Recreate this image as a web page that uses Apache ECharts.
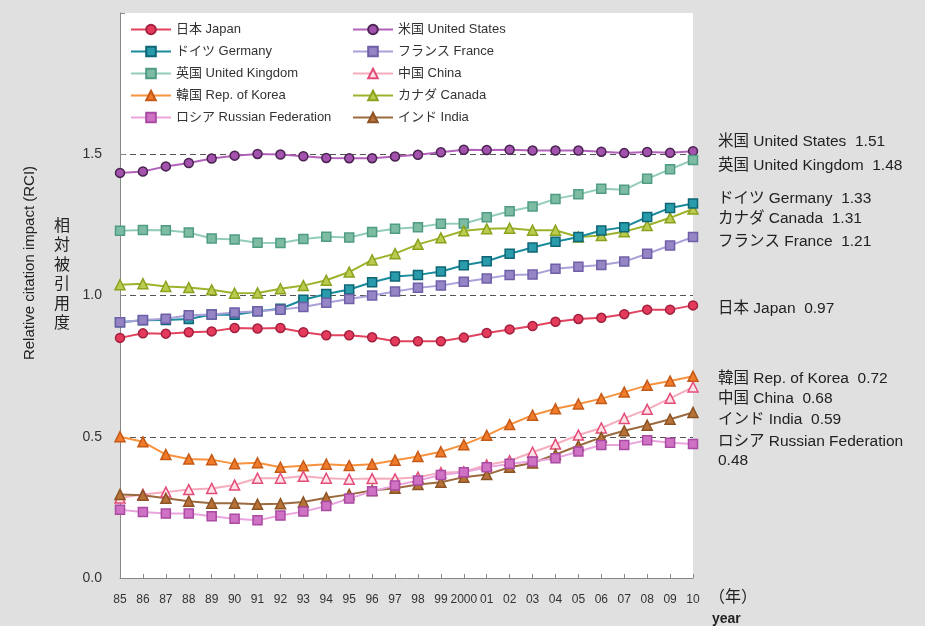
<!DOCTYPE html>
<html>
<head>
<meta charset="utf-8">
<title>Relative citation impact</title>
<script src="https://cdn.jsdelivr.net/npm/echarts@6/dist/echarts.min.js"></script>
<style>
  html, body { margin: 0; padding: 0; background: #e0e0e0; }
  #chart { width: 925px; height: 626px; }
</style>
</head>
<body>
<div id="chart"></div>
<script>
// years 1985-2010
var years = ['85','86','87','88','89','90','91','92','93','94','95','96','97','98','99','2000','01','02','03','04','05','06','07','08','09','10'];

var japan   = [0.850,0.866,0.865,0.870,0.873,0.885,0.883,0.885,0.870,0.859,0.859,0.852,0.838,0.838,0.838,0.851,0.867,0.880,0.892,0.907,0.917,0.921,0.934,0.950,0.950,0.965];
var us      = [1.434,1.439,1.457,1.469,1.485,1.495,1.501,1.499,1.493,1.487,1.486,1.486,1.492,1.498,1.507,1.516,1.515,1.516,1.513,1.513,1.513,1.509,1.504,1.508,1.505,1.511];
var germany = [0.905,0.912,0.913,0.917,0.933,0.932,0.944,0.953,0.985,1.005,1.021,1.047,1.067,1.073,1.085,1.107,1.121,1.148,1.170,1.190,1.207,1.230,1.242,1.278,1.310,1.326];
var france  = [0.905,0.913,0.918,0.930,0.933,0.940,0.944,0.950,0.959,0.974,0.988,1.000,1.014,1.027,1.035,1.049,1.060,1.073,1.074,1.095,1.102,1.108,1.120,1.148,1.177,1.207];
var uk      = [1.229,1.232,1.231,1.223,1.202,1.198,1.187,1.186,1.200,1.208,1.205,1.225,1.236,1.242,1.254,1.255,1.277,1.298,1.315,1.342,1.358,1.378,1.374,1.413,1.447,1.480];
var china   = [0.283,0.296,0.304,0.313,0.317,0.329,0.353,0.353,0.360,0.353,0.350,0.352,0.351,0.357,0.373,0.376,0.400,0.415,0.445,0.474,0.506,0.531,0.565,0.597,0.636,0.676];
var korea   = [0.500,0.482,0.437,0.421,0.419,0.404,0.408,0.392,0.397,0.403,0.398,0.403,0.417,0.430,0.447,0.472,0.505,0.543,0.576,0.599,0.616,0.635,0.658,0.682,0.697,0.714];
var canada  = [1.038,1.042,1.032,1.028,1.020,1.008,1.009,1.024,1.035,1.054,1.083,1.126,1.148,1.181,1.204,1.229,1.236,1.238,1.231,1.231,1.207,1.212,1.226,1.248,1.275,1.306];
var russia  = [0.242,0.234,0.228,0.228,0.219,0.210,0.204,0.221,0.235,0.255,0.281,0.307,0.327,0.345,0.365,0.374,0.392,0.404,0.412,0.424,0.448,0.471,0.471,0.488,0.479,0.474];
var india   = [0.296,0.293,0.282,0.272,0.265,0.265,0.261,0.263,0.269,0.284,0.296,0.310,0.318,0.331,0.339,0.357,0.366,0.392,0.407,0.437,0.468,0.498,0.521,0.541,0.562,0.586];

var yTicks = ['0.0', '0.5', '1.0', '1.5'];

var endLabels = [
  '米国 United States  1.51',
  '英国 United Kingdom  1.48',
  'ドイツ Germany  1.33',
  'カナダ Canada  1.31',
  'フランス France  1.21',
  '日本 Japan  0.97',
  '韓国 Rep. of Korea  0.72',
  '中国 China  0.68',
  'インド India  0.59',
  'ロシア Russian Federation',
  '0.48'
];

var FONT = '"Liberation Sans", "Noto Sans CJK JP", sans-serif';

function mk(name, data, symbol, line, fill, border, size) {
  return {
    name: name,
    type: 'line',
    data: data,
    symbol: symbol,
    symbolSize: size || 9,
    lineStyle: { color: line, width: 2 },
    itemStyle: { color: fill, borderColor: border, borderWidth: 1.5 },
    emphasis: { disabled: true }
  };
}

var series = [
  mk('米国 United States', us, 'circle', '#b262bb', '#a352ae', '#4a2450'),
  mk('英国 United Kingdom', uk, 'rect', '#93cdb9', '#7dbca3', '#4f9b83'),
  mk('カナダ Canada', canada, 'triangle', '#9db32c', '#bccb50', '#8aa31f', 10),
  mk('ドイツ Germany', germany, 'rect', '#1a8b9c', '#2a9bab', '#0e6575'),
  mk('フランス France', france, 'rect', '#aba1d8', '#9585c5', '#6e5fa8'),
  mk('日本 Japan', japan, 'circle', '#e2435f', '#e43a5c', '#a3213f'),
  mk('韓国 Rep. of Korea', korea, 'triangle', '#f7923e', '#f07b2a', '#c55a18', 10),
  mk('中国 China', china, 'triangle', '#f5acbd', '#fbe3e8', '#e44c78', 10),
  mk('インド India', india, 'triangle', '#9b6b3f', '#b77238', '#8c5325', 10),
  mk('ロシア Russian Federation', russia, 'rect', '#eaa5de', '#cf72c4', '#a94aa3')
];

var labelY = [143, 167, 200, 220, 243, 310, 380, 400, 421, 443, 462];
var graphics = endLabels.map(function (t, i) {
  return {
    type: 'text', left: 718, top: labelY[i] - 9,
    style: { text: t, fill: '#222', font: '15.5px ' + FONT }
  };
});
graphics.push({
  type: 'text', left: 709, top: 590,
  style: { text: '（年）', fill: '#222', font: '16px ' + FONT }
});
graphics.push({
  type: 'text', left: 712, top: 612,
  style: { text: 'year', fill: '#222', font: 'bold 14px ' + FONT }
});
graphics.push({
  type: 'text', x: 30, y: 263, rotation: Math.PI / 2,
  style: { text: 'Relative citation impact (RCI)', fill: '#222', font: '15px ' + FONT, align: 'center', verticalAlign: 'middle' }
});
graphics.push({
  type: 'text', left: 54, top: 215,
  style: { text: '相\n対\n被\n引\n用\n度', fill: '#222', font: '16px "Noto Sans CJK JP"', lineHeight: 19.5 }
});

var legendCommon = {
  orient: 'vertical',
  top: 18,
  itemWidth: 40,
  itemHeight: 12,
  itemGap: 9,
  textStyle: { fontSize: 13, color: '#333', fontFamily: FONT },
  selectedMode: false
};

var option = {
  backgroundColor: '#e0e0e0',
  animation: false,
  textStyle: { fontFamily: FONT },
  grid: {
    left: 120, right: 232, top: 13, bottom: 48,
    show: true, backgroundColor: '#ffffff', borderWidth: 0
  },
  legend: [
    Object.assign({}, legendCommon, {
      left: 125,
      data: ['日本 Japan', 'ドイツ Germany', '英国 United Kingdom', '韓国 Rep. of Korea', 'ロシア Russian Federation']
    }),
    Object.assign({}, legendCommon, {
      left: 347,
      data: ['米国 United States', 'フランス France', '中国 China', 'カナダ Canada', 'インド India']
    })
  ],
  xAxis: {
    type: 'category',
    data: years,
    boundaryGap: false,
    axisLine: { lineStyle: { color: '#888', width: 1 } },
    axisTick: { inside: true, length: 4, lineStyle: { color: '#888' } },
    axisLabel: { color: '#333', fontSize: 12, margin: 16, interval: 0 }
  },
  yAxis: {
    type: 'value',
    min: 0, max: 2, interval: 0.5,
    axisLine: { show: true, lineStyle: { color: '#888', width: 1 } },
    axisTick: { show: true, inside: true, length: 5, lineStyle: { color: '#888' } },
    axisLabel: {
      color: '#333', fontSize: 14, margin: 18,
      formatter: function (v) {
        var s = v.toFixed(1);
        return yTicks.indexOf(s) >= 0 ? s : '';
      }
    },
    splitLine: {
      show: true, showMinLine: false, showMaxLine: false,
      lineStyle: { color: '#555', type: [6, 4], width: 1 }
    }
  },
  graphic: graphics,
  series: series
};

var myChart = echarts.init(document.getElementById('chart'));
myChart.setOption(option);
</script>
</body>
</html>
